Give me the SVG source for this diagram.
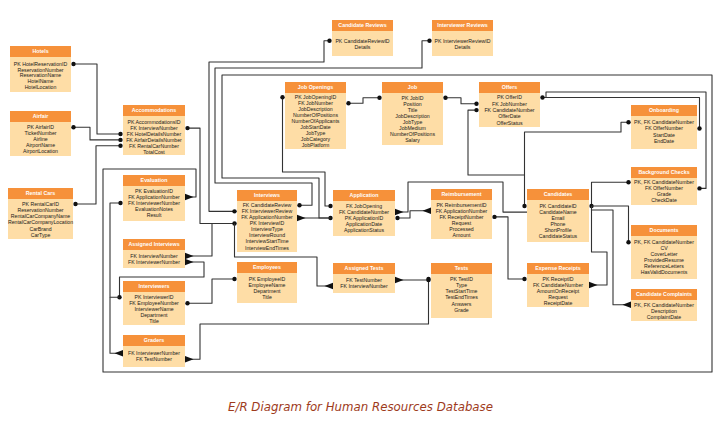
<svg xmlns="http://www.w3.org/2000/svg" width="723" height="431" viewBox="0 0 723 431">
<style>
.bd{fill:#FEDDA6}
.hd{fill:#F6913A}
.ht{font-family:"Liberation Sans",Arial,sans-serif;font-size:5.3px;font-weight:bold;fill:#ffffff;text-anchor:middle}
.ft{font-family:"Liberation Sans",Arial,sans-serif;font-size:5.2px;fill:#1a1a1a;text-anchor:middle}
.c{fill:none;stroke:#333;stroke-width:1.1;stroke-linejoin:round}
.title{font-family:"DejaVu Sans","Liberation Sans",sans-serif;font-style:italic;font-size:12.5px;fill:#9E3B1C}
</style>
<defs>
<marker id="dot" viewBox="-3 -3 6 6" refX="0" refY="0" markerWidth="6" markerHeight="6" markerUnits="userSpaceOnUse"><circle r="2.2" fill="#111"/></marker>
<marker id="tri" viewBox="-9 -4 10 8" refX="0" refY="0" markerWidth="10" markerHeight="8" markerUnits="userSpaceOnUse" orient="auto-start-reverse"><path d="M0,-3.2 L-8.5,0 L0,3.2 Z" fill="#111"/></marker>
</defs>
<rect width="723" height="431" fill="#ffffff"/>

<g id="connectors">
<path class="c" d="M73.5,64 H97 V134 H120.5" marker-start="url(#dot)" marker-end="url(#dot)"/>
<path class="c" d="M73.5,127.3 H90 V139.9 H120.5" marker-start="url(#dot)" marker-end="url(#dot)"/>
<path class="c" d="M75.5,204 H96 V145.8 H120.5" marker-start="url(#dot)" marker-end="url(#dot)"/>
<path class="c" d="M187.5,128.1 H200 V223.45 H234.5" marker-start="url(#dot)" marker-end="url(#dot)"/>
<path class="c" d="M329.5,40.7 H324 V62 H209 V211.35 H234.5" marker-start="url(#dot)" marker-end="url(#dot)"/>
<path class="c" d="M429.5,40.7 H422 V68 H215 V183 H312 V205.3 H299.5" marker-start="url(#dot)" marker-end="url(#dot)"/>
<path class="c" d="M185,256 H212 V223.45" marker-start="url(#tri)"/>
<path class="c" d="M185,262 H204 V277 H119.5 V297.3" marker-start="url(#tri)" marker-end="url(#dot)"/>
<path class="c" d="M119.5,297.3 H110 V203 H120.5" marker-end="url(#dot)"/>
<path class="c" d="M110,297.3 V353.3 H123" marker-end="url(#tri)"/>
<path class="c" d="M187.5,303.3 H212 V279 H234.5" marker-start="url(#dot)" marker-end="url(#dot)"/>
<path class="c" d="M185,359.3 H200 V324 H428.5 V279" marker-start="url(#tri)" marker-end="url(#dot)"/>
<path class="c" d="M234.5,223.45 V257 H317 V286 H333" marker-end="url(#tri)"/>
<path class="c" d="M330.5,218 H297" marker-start="url(#dot)" marker-end="url(#tri)"/>
<path class="c" d="M282.5,97.3 V172 H325 V206 H330.5" marker-start="url(#dot)" marker-end="url(#dot)"/>
<path class="c" d="M185,197 H196 V169 H103 V372 H712 V75 H222 V178 H319 V218 H330.5" marker-start="url(#tri)"/>
<path class="c" d="M348.5,103.3 H363 V97.7 H379.5" marker-start="url(#dot)" marker-end="url(#dot)"/>
<path class="c" d="M445.5,97.7 H461 V103.8 H476.5" marker-start="url(#dot)" marker-end="url(#dot)"/>
<path class="c" d="M476.5,110.1 H468 V175 H524.5 V206" marker-start="url(#dot)" marker-end="url(#dot)"/>
<path class="c" d="M628.5,122.3 H621 V132 H524.5 V175" marker-start="url(#dot)"/>
<path class="c" d="M542.5,97.5 H699.5 V128.5" marker-start="url(#dot)" marker-end="url(#dot)"/>
<path class="c" d="M546,97.5 V92 H706 V188.4 H699.5" marker-end="url(#dot)"/>
<path class="c" d="M395,212 H408 V182 H503 V212.1 H527" marker-start="url(#tri)"/>
<path class="c" d="M397.5,218 H410 V210.8 H431" marker-start="url(#dot)" marker-end="url(#tri)"/>
<path class="c" d="M494.5,216.9 H508 V279 H524.5" marker-start="url(#dot)" marker-end="url(#dot)"/>
<path class="c" d="M395,280 H428.5" marker-start="url(#tri)" marker-end="url(#dot)"/>
<path class="c" d="M591.5,206 V182.3 H628.5" marker-start="url(#dot)" marker-end="url(#dot)"/>
<path class="c" d="M591.5,206 H628.5 V242.3" marker-end="url(#dot)"/>
<path class="c" d="M591.5,210 H613 V304.7 H631" marker-end="url(#tri)"/>
<path class="c" d="M591.5,206 V252 H607 V285 H589" marker-end="url(#tri)"/>
</g>

<g id="hotels">
<rect class="bd" x="10" y="46" width="61" height="46"/><rect class="hd" x="10" y="46" width="61" height="11"/>
<text class="ht" x="40.5" y="53.3">Hotels</text>
<text class="ft" x="40.5" y="65.8">PK HotelReservationID</text>
<text class="ft" x="40.5" y="71.6">ReservationNumber</text>
<text class="ft" x="40.5" y="77.4">ReservationName</text>
<text class="ft" x="40.5" y="83.2">HotelName</text>
<text class="ft" x="40.5" y="89">HotelLocation</text>
</g>
<g id="airfair">
<rect class="bd" x="10" y="111" width="61" height="45"/><rect class="hd" x="10" y="111" width="61" height="11"/>
<text class="ht" x="40.5" y="118.3">Airfair</text>
<text class="ft" x="40.5" y="129.1">PK AirfairID</text>
<text class="ft" x="40.5" y="135.1">TicketNumber</text>
<text class="ft" x="40.5" y="141.1">Airline</text>
<text class="ft" x="40.5" y="147">AirportName</text>
<text class="ft" x="40.5" y="152.9">AirportLocation</text>
</g>
<g id="rental-cars">
<rect class="bd" x="8" y="188" width="65" height="51"/><rect class="hd" x="8" y="188" width="65" height="11"/>
<text class="ht" x="40.5" y="195.3">Rental Cars</text>
<text class="ft" x="40.5" y="205.8">PK RentalCarID</text>
<text class="ft" x="40.5" y="212">ReservationNumber</text>
<text class="ft" x="40.5" y="218.2">RentalCarCompanyName</text>
<text class="ft" x="40.5" y="224.4">RentalCarCompanyLocation</text>
<text class="ft" x="40.5" y="230.6">CarBrand</text>
<text class="ft" x="40.5" y="236.8">CarType</text>
</g>
<g id="accommodations">
<rect class="bd" x="123" y="105" width="62" height="50"/><rect class="hd" x="123" y="105" width="62" height="11"/>
<text class="ht" x="154" y="112.3">Accommodations</text>
<text class="ft" x="154" y="124">PK AccommodationsID</text>
<text class="ft" x="154" y="129.9">FK InterviewNumber</text>
<text class="ft" x="154" y="135.8">FK HotelDetailsNumber</text>
<text class="ft" x="154" y="141.7">FK AirfairDetailsNumber</text>
<text class="ft" x="154" y="147.6">FK RentalCarNumber</text>
<text class="ft" x="154" y="153.5">TotalCost</text>
</g>
<g id="evaluation">
<rect class="bd" x="123" y="175" width="62" height="46"/><rect class="hd" x="123" y="175" width="62" height="11"/>
<text class="ht" x="154" y="182.3">Evaluation</text>
<text class="ft" x="154" y="192.8">PK EvaluationID</text>
<text class="ft" x="154" y="198.8">FK ApplicationNumber</text>
<text class="ft" x="154" y="204.8">FK InterviewerNumber</text>
<text class="ft" x="154" y="210.8">EvaluationNotes</text>
<text class="ft" x="154" y="216.8">Result</text>
</g>
<g id="assigned-interviews">
<rect class="bd" x="123" y="239" width="62" height="29"/><rect class="hd" x="123" y="239" width="62" height="11"/>
<text class="ht" x="154" y="246.3">Assigned Interviews</text>
<text class="ft" x="154" y="257.8">FK InterviewNumber</text>
<text class="ft" x="154" y="263.8">FK InterviewerNumber</text>
</g>
<g id="interviewers">
<rect class="bd" x="123" y="281" width="62" height="44"/><rect class="hd" x="123" y="281" width="62" height="11"/>
<text class="ht" x="154" y="288.3">Interviewers</text>
<text class="ft" x="154" y="299.1">PK InterviewerID</text>
<text class="ft" x="154" y="305.1">FK EmployeeNumber</text>
<text class="ft" x="154" y="311.2">InterviewerName</text>
<text class="ft" x="154" y="317.3">Department</text>
<text class="ft" x="154" y="323.3">Title</text>
</g>
<g id="graders">
<rect class="bd" x="123" y="335" width="62" height="32"/><rect class="hd" x="123" y="335" width="62" height="11"/>
<text class="ht" x="154" y="342.3">Graders</text>
<text class="ft" x="154" y="355.1">FK InterviewerNumber</text>
<text class="ft" x="154" y="361.1">FK TestNumber</text>
</g>
<g id="candidate-reviews">
<rect class="bd" x="332" y="20" width="61" height="36"/><rect class="hd" x="332" y="20" width="61" height="11"/>
<text class="ht" x="362.5" y="27.3">Candidate Reviews</text>
<text class="ft" x="362.5" y="42.5">PK CandidateReviewID</text>
<text class="ft" x="362.5" y="48.5">Details</text>
</g>
<g id="interviewer-reviews">
<rect class="bd" x="432" y="20" width="61" height="36"/><rect class="hd" x="432" y="20" width="61" height="11"/>
<text class="ht" x="462.5" y="27.3">Interviewer Reviews</text>
<text class="ft" x="462.5" y="42.5">PK InterviewerReviewID</text>
<text class="ft" x="462.5" y="48.5">Details</text>
</g>
<g id="job-openings">
<rect class="bd" x="285" y="82" width="61" height="67"/><rect class="hd" x="285" y="82" width="61" height="11"/>
<text class="ht" x="315.5" y="89.3">Job Openings</text>
<text class="ft" x="315.5" y="99.1">PK JobOpeningID</text>
<text class="ft" x="315.5" y="105.1">FK JobNumber</text>
<text class="ft" x="315.5" y="111.1">JobDescription</text>
<text class="ft" x="315.5" y="117.1">NumberOfPositions</text>
<text class="ft" x="315.5" y="123.1">NumberOfApplicants</text>
<text class="ft" x="315.5" y="129.1">JobStartDate</text>
<text class="ft" x="315.5" y="135.1">JobType</text>
<text class="ft" x="315.5" y="141.1">JobCategory</text>
<text class="ft" x="315.5" y="147.1">JobPlatform</text>
</g>
<g id="job">
<rect class="bd" x="382" y="82" width="61" height="63"/><rect class="hd" x="382" y="82" width="61" height="11"/>
<text class="ht" x="412.5" y="89.3">Job</text>
<text class="ft" x="412.5" y="99.5">PK JobID</text>
<text class="ft" x="412.5" y="105.5">Position</text>
<text class="ft" x="412.5" y="111.6">Title</text>
<text class="ft" x="412.5" y="117.6">JobDescription</text>
<text class="ft" x="412.5" y="123.7">JobType</text>
<text class="ft" x="412.5" y="129.7">JobMedium</text>
<text class="ft" x="412.5" y="135.8">NumberOfPositions</text>
<text class="ft" x="412.5" y="141.8">Salary</text>
</g>
<g id="offers">
<rect class="bd" x="479" y="82" width="61" height="45"/><rect class="hd" x="479" y="82" width="61" height="11"/>
<text class="ht" x="509.5" y="89.3">Offers</text>
<text class="ft" x="509.5" y="99.3">PK OfferID</text>
<text class="ft" x="509.5" y="105.6">FK JobNumber</text>
<text class="ft" x="509.5" y="111.9">FK CandidateNumber</text>
<text class="ft" x="509.5" y="118.2">OfferDate</text>
<text class="ft" x="509.5" y="124.5">OfferStatus</text>
</g>
<g id="onboarding">
<rect class="bd" x="631" y="105" width="66" height="44"/><rect class="hd" x="631" y="105" width="66" height="11"/>
<text class="ht" x="664" y="112.3">Onboarding</text>
<text class="ft" x="664" y="124.1">PK, FK CandidateNumber</text>
<text class="ft" x="664" y="130.3">FK OfferNumber</text>
<text class="ft" x="664" y="136.5">StartDate</text>
<text class="ft" x="664" y="142.7">EndDate</text>
</g>
<g id="background-checks">
<rect class="bd" x="631" y="167" width="66" height="38"/><rect class="hd" x="631" y="167" width="66" height="11"/>
<text class="ht" x="664" y="174.3">Background Checks</text>
<text class="ft" x="664" y="184.1">PK, FK CandidateNumber</text>
<text class="ft" x="664" y="190.2">FK OfferNumber</text>
<text class="ft" x="664" y="196.3">Grade</text>
<text class="ft" x="664" y="202.4">CheckDate</text>
</g>
<g id="documents">
<rect class="bd" x="631" y="225" width="66" height="54"/><rect class="hd" x="631" y="225" width="66" height="11"/>
<text class="ht" x="664" y="232.3">Documents</text>
<text class="ft" x="664" y="244.1">PK, FK CandidateNumber</text>
<text class="ft" x="664" y="250.1">CV</text>
<text class="ft" x="664" y="256.1">CoverLetter</text>
<text class="ft" x="664" y="262.1">ProvidedResume</text>
<text class="ft" x="664" y="268.1">ReferenceLetters</text>
<text class="ft" x="664" y="274.1">HasValidDocuments</text>
</g>
<g id="candidate-complaints">
<rect class="bd" x="631" y="289" width="66" height="32"/><rect class="hd" x="631" y="289" width="66" height="11"/>
<text class="ht" x="664" y="296.3">Candidate Complaints</text>
<text class="ft" x="664" y="306.5">PK, FK CandidateNumber</text>
<text class="ft" x="664" y="312.5">Description</text>
<text class="ft" x="664" y="318.5">ComplaintDate</text>
</g>
<g id="candidates">
<rect class="bd" x="527" y="189" width="62" height="53"/><rect class="hd" x="527" y="189" width="62" height="11"/>
<text class="ht" x="558" y="196.3">Candidates</text>
<text class="ft" x="558" y="207.8">PK CandidateID</text>
<text class="ft" x="558" y="213.9">CandidateName</text>
<text class="ft" x="558" y="220">Email</text>
<text class="ft" x="558" y="226.1">Phone</text>
<text class="ft" x="558" y="232.2">ShortProfile</text>
<text class="ft" x="558" y="238.3">CandidateStatus</text>
</g>
<g id="reimbursement">
<rect class="bd" x="431" y="189" width="61" height="50"/><rect class="hd" x="431" y="189" width="61" height="11"/>
<text class="ht" x="461.5" y="196.3">Reimbursement</text>
<text class="ft" x="461.5" y="206.5">PK ReimbursementID</text>
<text class="ft" x="461.5" y="212.6">FK ApplicationNumber</text>
<text class="ft" x="461.5" y="218.7">FK ReceiptNumber</text>
<text class="ft" x="461.5" y="224.8">Request</text>
<text class="ft" x="461.5" y="230.9">Processed</text>
<text class="ft" x="461.5" y="237">Amount</text>
</g>
<g id="expense-receipts">
<rect class="bd" x="527" y="263" width="62" height="44"/><rect class="hd" x="527" y="263" width="62" height="11"/>
<text class="ht" x="558" y="270.3">Expense Receipts</text>
<text class="ft" x="558" y="280.8">PK ReceiptID</text>
<text class="ft" x="558" y="286.8">FK CandidateNumber</text>
<text class="ft" x="558" y="292.8">AmountOnReceipt</text>
<text class="ft" x="558" y="298.8">Request</text>
<text class="ft" x="558" y="304.8">ReceiptDate</text>
</g>
<g id="tests">
<rect class="bd" x="431" y="263" width="61" height="55"/><rect class="hd" x="431" y="263" width="61" height="11"/>
<text class="ht" x="461.5" y="270.3">Tests</text>
<text class="ft" x="461.5" y="280.8">PK TestID</text>
<text class="ft" x="461.5" y="287">Type</text>
<text class="ft" x="461.5" y="293.2">TestStartTime</text>
<text class="ft" x="461.5" y="299.4">TestEndTimes</text>
<text class="ft" x="461.5" y="305.6">Answers</text>
<text class="ft" x="461.5" y="311.8">Grade</text>
</g>
<g id="interviews">
<rect class="bd" x="237" y="190" width="60" height="62"/><rect class="hd" x="237" y="190" width="60" height="11"/>
<text class="ht" x="267" y="197.3">Interviews</text>
<text class="ft" x="267" y="207.1">FK CandidateReview</text>
<text class="ft" x="267" y="213.2">FK InterviewerReview</text>
<text class="ft" x="267" y="219.2">FK ApplicationNumber</text>
<text class="ft" x="267" y="225.3">PK InterviewID</text>
<text class="ft" x="267" y="231.3">InterviewType</text>
<text class="ft" x="267" y="237.4">InterviewRound</text>
<text class="ft" x="267" y="243.4">InterviewStartTime</text>
<text class="ft" x="267" y="249.5">InterviewEndTimes</text>
</g>
<g id="application">
<rect class="bd" x="333" y="190" width="62" height="46"/><rect class="hd" x="333" y="190" width="62" height="11"/>
<text class="ht" x="364" y="197.3">Application</text>
<text class="ft" x="364" y="207.8">FK JobOpening</text>
<text class="ft" x="364" y="213.8">FK CandidateNumber</text>
<text class="ft" x="364" y="219.8">PK ApplicationID</text>
<text class="ft" x="364" y="225.8">ApplicationDate</text>
<text class="ft" x="364" y="231.8">ApplicationStatus</text>
</g>
<g id="employees">
<rect class="bd" x="237" y="262" width="60" height="41"/><rect class="hd" x="237" y="262" width="60" height="11"/>
<text class="ht" x="267" y="269.3">Employees</text>
<text class="ft" x="267" y="280.8">PK EmployeeID</text>
<text class="ft" x="267" y="286.8">EmployeeName</text>
<text class="ft" x="267" y="293.1">Department</text>
<text class="ft" x="267" y="298.8">Title</text>
</g>
<g id="assigned-tests">
<rect class="bd" x="333" y="263" width="62" height="30"/><rect class="hd" x="333" y="263" width="62" height="11"/>
<text class="ht" x="364" y="270.3">Assigned Tests</text>
<text class="ft" x="364" y="281.8">FK TestNumber</text>
<text class="ft" x="364" y="287.8">FK InterviewNumber</text>
</g>

<text class="title" x="228" y="411" textLength="265" lengthAdjust="spacingAndGlyphs">E/R Diagram for Human Resources Database</text>
</svg>
